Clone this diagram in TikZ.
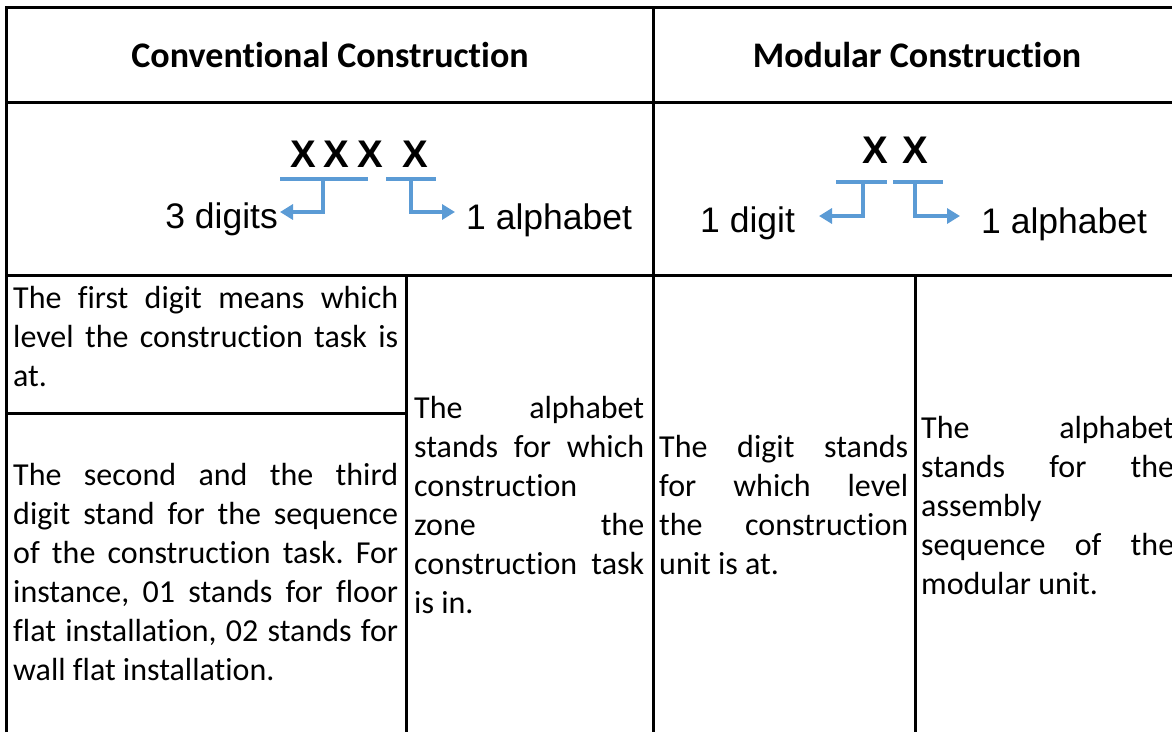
\documentclass[tikz,border=0pt]{standalone}
\usepackage{fontspec}
\setmainfont{Carlito}[Ligatures=NoCommon]
\newfontfamily\arialfont{Liberation Sans}
\usetikzlibrary{arrows.meta}
\definecolor{myblue}{HTML}{5B9BD5}
\frenchspacing

\begin{document}
\begin{tikzpicture}[x=1pt,y=-1pt,
      myline/.style={line width=3pt},
      myhead/.style={
         inner sep=0pt,
         font=\fontsize{36}{43}\selectfont\bfseries},
      mycell/.style={
         anchor=base west,
         inner sep=0pt,
         align=justify,
         font=\fontsize{32}{39}\selectfont},
      mylabel/.style={inner sep=0pt, font=\arialfont\fontsize{35.5}{42}\selectfont},
      myx/.style={anchor=base, inner sep=0pt, font=\arialfont\fontsize{38.5}{46}\selectfont\bfseries},
      mybar/.style={myblue, line width=4.5pt},
      myarrow/.style={myblue, line width=4.5pt, -{Triangle[length=13pt,width=15pt]}}
      ]
      \useasboundingbox (0,0) rectangle (1172,732);

      % table grid
      \draw[myline, line join=miter] (6.5,732) -- (6.5,7) -- (1172,7);
      \foreach \xa/\ya/\xb/\yb in {% start x/start y/end x/end y
         6.5/102/1172/102,
         6.5/275/1172/275,
         6.5/413.5/406.5/413.5,
         653/7/653/732,
         406.5/275/406.5/732,
         915.5/275/915.5/732}
         \draw[myline] (\xa,\ya) -- (\xb,\yb);

      % headers
      \node[myhead] (conv) at (330,54.5) {Conventional Construction};
      \node[myhead] (modu) at (917,54.5) {Modular Construction};

      % code letters
      \foreach \n/\px/\py in {xa1/303.5/167, xa2/336.5/167, xa3/370/167, xa4/415/167,
         xb1/875/163, xb2/915/163}
         \node[myx] (\n) at (\px,\py) {X};

      % brackets and arrows
      \coordinate (b1w) at (280,179);
      \coordinate (b1m) at (323,179);
      \coordinate (b1e) at (368,179);
      \coordinate (b2w) at (386,179);
      \coordinate (b2m) at (411,179);
      \coordinate (b2e) at (436,179);
      \coordinate (b3w) at (836,182);
      \coordinate (b3m) at (863,182);
      \coordinate (b3e) at (887,182);
      \coordinate (b4w) at (893,182);
      \coordinate (b4m) at (915,182);
      \coordinate (b4e) at (943,182);
      \coordinate (t1) at (280,212);
      \coordinate (t2) at (455,212);
      \coordinate (t3) at (819,216);
      \coordinate (t4) at (960,216);
      \foreach \i in {1,2,3,4}
         \draw[mybar] (b\i w) -- (b\i e);
      \foreach \i in {1,2,3,4}
         \draw[myarrow] (b\i m) |- (t\i);

      \node[mylabel, anchor=base east] (digits3) at (278,228) {3 digits};
      \node[mylabel, anchor=base west] (alpha1) at (466,229) {1 alphabet};
      \node[mylabel, anchor=base west] (digit1) at (700,232) {1 digit};
      \node[mylabel, anchor=base west] (alpha2) at (981,233) {1 alphabet};

      % cell texts
      \node[mycell, text width=385pt] (c1) at (13,308)
         {The first digit means which\linebreak level the construction task is\linebreak at.};
      \node[mycell, text width=385pt] (c2) at (13,485)
         {The second and the third\linebreak digit stand for the sequence\linebreak of the construction task. For\linebreak instance, 01 stands for floor\linebreak flat installation, 02 stands for\linebreak wall flat installation.};
      \node[mycell, text width=230pt] (c3) at (414,418)
         {The alphabet\linebreak stands for which\linebreak construction\linebreak zone the\linebreak construction task\linebreak is in.};
      \node[mycell, text width=249pt] (c4) at (659,457)
         {The digit stands\linebreak for which level\linebreak the construction\linebreak unit is at.};
      \node[mycell, text width=253pt] (c5) at (921,438)
         {The alphabet\linebreak stands for the\linebreak assembly\linebreak sequence of the\linebreak modular unit.};
\end{tikzpicture}
\end{document}
